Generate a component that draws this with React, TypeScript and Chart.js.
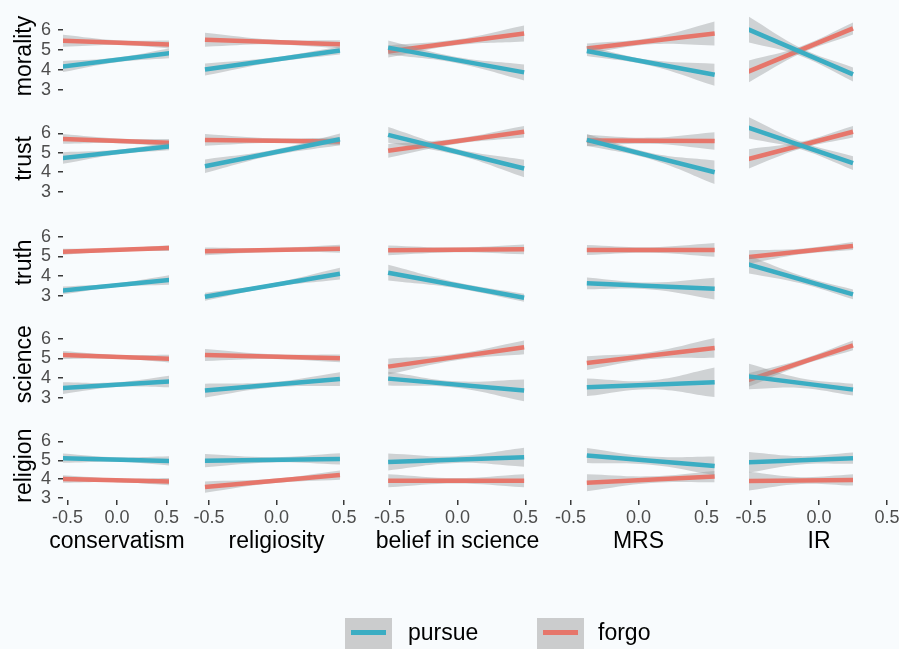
import React, { useEffect, useRef } from 'react';
import { Chart, registerables } from 'chart.js';

Chart.register(...registerables);

// ---------- data ----------
const outcomes = ['morality', 'trust', 'truth', 'science', 'religion'];
const predictors = ['conservatism', 'religiosity', 'belief in science', 'MRS', 'IR'];
const seriesNames = ['pursue', 'forgo'];
const xTicks = [-0.5, 0, 0.5];
const yTicks = [3, 4, 5, 6];

// x extent of each fitted line, per predictor (column)
const xFrom = [-0.55, -0.53, -0.51, -0.38, -0.52];
const xTo = [0.55, 0.47, 0.49, 0.56, 0.25];

// fitted values at the left / right end of each line; rows = outcomes, cols = predictors
const pursueStart = [
  [4.17, 4.02, 5.12, 4.95, 6.03],
  [4.73, 4.31, 5.92, 5.66, 6.29],
  [3.28, 2.96, 4.18, 3.64, 4.6],
  [3.49, 3.36, 3.97, 3.53, 4.08],
  [5.11, 4.98, 4.91, 5.25, 4.89],
];
const pursueEnd = [
  [4.85, 4.98, 3.88, 3.76, 3.78],
  [5.34, 5.69, 4.19, 4.0, 4.47],
  [3.82, 4.13, 2.91, 3.37, 3.08],
  [3.83, 3.95, 3.37, 3.78, 3.41],
  [4.96, 5.07, 5.16, 4.7, 5.11],
];
const forgoStart = [
  [5.46, 5.51, 4.93, 5.07, 3.92],
  [5.71, 5.66, 5.1, 5.63, 4.68],
  [5.24, 5.26, 5.31, 5.33, 4.97],
  [5.17, 5.17, 4.58, 4.76, 3.9],
  [4.0, 3.57, 3.91, 3.8, 3.89],
];
const forgoEnd = [
  [5.27, 5.29, 5.83, 5.83, 6.08],
  [5.51, 5.58, 6.08, 5.61, 6.08],
  [5.43, 5.39, 5.36, 5.33, 5.53],
  [4.98, 5.0, 5.56, 5.53, 5.66],
  [3.86, 4.21, 3.91, 4.13, 3.95],
];

// confidence band half-widths at left end, middle and right end
const pursueCiL = [
  [0.28, 0.3, 0.35, 0.25, 0.65],
  [0.3, 0.35, 0.4, 0.3, 0.55],
  [0.2, 0.2, 0.4, 0.3, 0.45],
  [0.3, 0.35, 0.35, 0.45, 0.65],
  [0.25, 0.35, 0.45, 0.4, 0.55],
];
const pursueCiM = [
  [0.12, 0.12, 0.15, 0.14, 0.2],
  [0.12, 0.14, 0.15, 0.16, 0.2],
  [0.1, 0.1, 0.15, 0.18, 0.2],
  [0.12, 0.14, 0.16, 0.22, 0.25],
  [0.12, 0.14, 0.18, 0.22, 0.22],
];
const pursueCiR = [
  [0.25, 0.2, 0.4, 0.55, 0.35],
  [0.2, 0.3, 0.45, 0.6, 0.35],
  [0.25, 0.3, 0.2, 0.55, 0.25],
  [0.3, 0.35, 0.55, 0.75, 0.3],
  [0.25, 0.3, 0.5, 0.5, 0.3],
];
const forgoCiL = [
  [0.3, 0.35, 0.3, 0.25, 0.55],
  [0.25, 0.3, 0.35, 0.3, 0.5],
  [0.15, 0.2, 0.25, 0.25, 0.35],
  [0.2, 0.3, 0.4, 0.35, 0.35],
  [0.2, 0.3, 0.35, 0.45, 0.5],
];
const forgoCiM = [
  [0.12, 0.12, 0.14, 0.16, 0.18],
  [0.12, 0.12, 0.14, 0.16, 0.18],
  [0.08, 0.1, 0.12, 0.14, 0.14],
  [0.1, 0.12, 0.16, 0.18, 0.15],
  [0.1, 0.12, 0.15, 0.18, 0.18],
];
const forgoCiR = [
  [0.2, 0.2, 0.4, 0.6, 0.3],
  [0.2, 0.2, 0.3, 0.45, 0.3],
  [0.15, 0.2, 0.25, 0.35, 0.2],
  [0.2, 0.2, 0.35, 0.5, 0.25],
  [0.2, 0.25, 0.35, 0.3, 0.3],
];

// ---------- layout / style ----------
const FONT = '"Liberation Sans", Arial, Helvetica, sans-serif';
const BG = '#f8fbfd';
const PURSUE_COLOR = '#3badc3';
const FORGO_COLOR = '#e6766b';
const BAND_COLOR = 'rgba(150,152,154,0.42)';
const TICK_TEXT = '#4d4d4d';
const TICK_MARK = '#3a3a3a';

const colWeights = [106, 215, 144, 221, 140];
const xMin = [-0.5455, -0.7963, -0.5404, -0.8125, -0.5147];
const xMax = [0.5253, 0.7963, 0.5184, 0.8125, 0.5147];
const rowWeights = [104, 103, 102, 103, 80];
const yMin = [1.9, 1.803, 1.938, 1.866, 2.883];
const yMax = [7.1, 7.094, 7.098, 7.103, 7.144];

function buildDatasets() {
  const ds: any[] = [];
  const series = [
    { name: seriesNames[0], color: PURSUE_COLOR, s: pursueStart, e: pursueEnd, l: pursueCiL, m: pursueCiM, r: pursueCiR },
    { name: seriesNames[1], color: FORGO_COLOR, s: forgoStart, e: forgoEnd, l: forgoCiL, m: forgoCiM, r: forgoCiR },
  ];
  outcomes.forEach((_, row) => {
    predictors.forEach((__, col) => {
      const xs = xFrom[col];
      const xe = xTo[col];
      const xm = (xs + xe) / 2;
      const axes = { xAxisID: 'x' + col, yAxisID: 'y' + row };
      series.forEach((se) => {
        const y0 = se.s[row][col];
        const y1 = se.e[row][col];
        const ym = (y0 + y1) / 2;
        ds.push({
          ...axes,
          label: se.name,
          data: [{ x: xs, y: y0 }, { x: xe, y: y1 }],
          borderColor: se.color,
          borderWidth: 4.5,
          pointRadius: 0,
          fill: false,
          borderCapStyle: 'butt',
        });
        ds.push({
          ...axes,
          label: se.name + ' upper',
          data: [
            { x: xs, y: y0 + se.l[row][col] },
            { x: xm, y: ym + se.m[row][col] },
            { x: xe, y: y1 + se.r[row][col] },
          ],
          borderWidth: 0,
          borderColor: 'rgba(0,0,0,0)',
          pointRadius: 0,
          tension: 0.4,
          backgroundColor: BAND_COLOR,
          fill: '+1',
        });
        ds.push({
          ...axes,
          label: se.name + ' lower',
          data: [
            { x: xs, y: y0 - se.l[row][col] },
            { x: xm, y: ym - se.m[row][col] },
            { x: xe, y: y1 - se.r[row][col] },
          ],
          borderWidth: 0,
          borderColor: 'rgba(0,0,0,0)',
          pointRadius: 0,
          tension: 0.4,
          fill: false,
        });
      });
    });
  });
  return ds;
}

function buildScales() {
  const scales: any = {};
  const grid = { drawOnChartArea: false, drawTicks: true, tickLength: 5, color: TICK_MARK, lineWidth: 1.5 };
  predictors.forEach((p, c) => {
    scales['x' + c] = {
      type: 'linear',
      position: 'bottom',
      stack: 'cols',
      stackWeight: colWeights[c],
      bounds: 'data',
      min: xMin[c],
      max: xMax[c],
      afterBuildTicks: (s: any) => {
        s.ticks = xTicks.map((v) => ({ value: v }));
      },
      afterFit: (s: any) => {
        s.height = 56;
        s.paddingLeft = 0;
        s.paddingRight = 0;
      },
      grid,
      border: { display: false },
      ticks: {
        autoSkip: false,
        maxRotation: 0,
        padding: 2,
        color: TICK_TEXT,
        font: { family: FONT, size: 18 },
        callback: (v: any) => Number(v).toFixed(1),
      },
      title: { display: false, text: p },
    };
  });
  outcomes.forEach((o, r) => {
    scales['y' + r] = {
      type: 'linear',
      position: 'left',
      stack: 'rows',
      stackWeight: rowWeights[r],
      weight: 10 - r,
      bounds: 'data',
      min: yMin[r],
      max: yMax[r],
      afterBuildTicks: (s: any) => {
        s.ticks = yTicks.map((v) => ({ value: v }));
      },
      afterFit: (s: any) => {
        s.width = 63;
        s.paddingTop = 0;
        s.paddingBottom = 0;
      },
      grid,
      border: { display: false },
      ticks: {
        autoSkip: false,
        padding: 7,
        color: TICK_TEXT,
        font: { family: FONT, size: 18 },
        callback: (v: any) => String(v),
      },
      title: { display: false, text: o },
    };
  });
  return scales;
}

// Axis titles (ggplot-style: centred on the panel, not squeezed into the axis box)
const axisTitlePlugin = {
  id: 'facetTitles',
  afterDraw(chart: any) {
    const ctx = chart.ctx;
    ctx.save();
    ctx.font = `23px ${FONT}`;
    ctx.fillStyle = '#000';
    ctx.textAlign = 'center';
    ctx.textBaseline = 'middle';
    predictors.forEach((p, c) => {
      const s = chart.scales['x' + c];
      ctx.fillText(p, s.getPixelForValue(0), s.bottom - 14);
    });
    outcomes.forEach((o, r) => {
      const s = chart.scales['y' + r];
      const cy = (s.getPixelForValue(yTicks[0]) + s.getPixelForValue(yTicks[yTicks.length - 1])) / 2 - 4;
      ctx.save();
      ctx.translate(25, cy);
      ctx.rotate(-Math.PI / 2);
      ctx.fillText(o, 0, 0);
      ctx.restore();
    });
    ctx.restore();
  },
};

const legendKeys = [
  { label: seriesNames[0], color: PURSUE_COLOR, boxLeft: 345, textLeft: 408 },
  { label: seriesNames[1], color: FORGO_COLOR, boxLeft: 537, textLeft: 598 },
];

export default function App() {
  const ref = useRef<HTMLCanvasElement>(null);

  useEffect(() => {
    if (!ref.current) return;
    const chart = new Chart(ref.current, {
      type: 'line',
      data: { datasets: buildDatasets() },
      options: {
        animation: false,
        responsive: false,
        devicePixelRatio: 1,
        events: [],
        parsing: false,
        layout: { padding: { left: 0, right: 10, top: 8, bottom: 93 } },
        plugins: {
          legend: { display: false },
          tooltip: { enabled: false },
        },
        scales: buildScales(),
      } as any,
      plugins: [axisTitlePlugin],
    });
    return () => chart.destroy();
  }, []);

  return (
    <div
      style={{
        position: 'absolute',
        left: 0,
        top: 0,
        width: 899,
        height: 649,
        background: BG,
        overflow: 'hidden',
        fontFamily: FONT,
      }}
    >
      <canvas
        ref={ref}
        width={899}
        height={649}
        style={{ position: 'absolute', left: 0, top: 0, width: 899, height: 649, display: 'block' }}
      />
      {legendKeys.map((k) => (
        <React.Fragment key={k.label}>
          <div
            style={{
              position: 'absolute',
              left: k.boxLeft,
              top: 618,
              width: 47,
              height: 31,
              background: '#cbcccd',
            }}
          >
            <div
              style={{
                position: 'absolute',
                left: 6,
                top: 12,
                width: 35,
                height: 5,
                background: k.color,
              }}
            />
          </div>
          <div
            style={{
              position: 'absolute',
              left: k.textLeft,
              top: 619,
              fontSize: 23,
              lineHeight: '27px',
              color: '#000',
              whiteSpace: 'nowrap',
            }}
          >
            {k.label}
          </div>
        </React.Fragment>
      ))}
    </div>
  );
}
